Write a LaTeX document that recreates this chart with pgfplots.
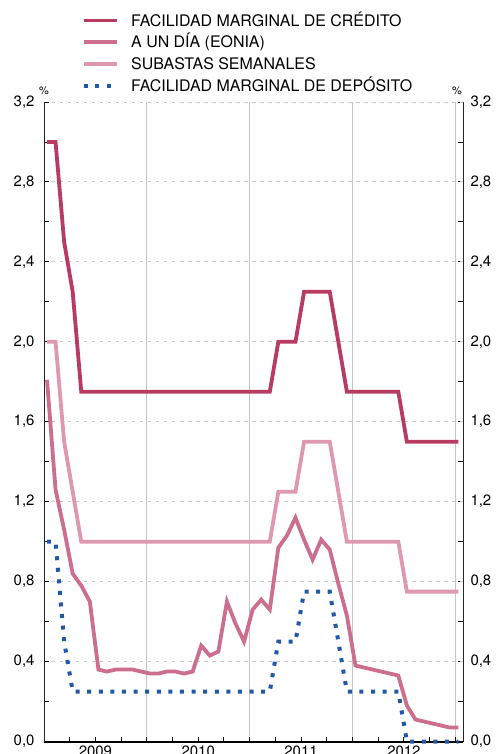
\documentclass[border=0pt]{standalone}
\usepackage{fontspec}
\setmainfont{TeX Gyre Heros}
\usepackage{pgfplots}
\pgfplotsset{compat=1.18}
\usepackage{pgfplotstable}
\definecolor{credito}{HTML}{B83B62}
\definecolor{eonia}{HTML}{CC6E8E}
\definecolor{subastas}{HTML}{DE98B0}
\definecolor{deposito}{HTML}{2358A8}
\definecolor{gridgray}{HTML}{C8C8C8}
\definecolor{yeargray}{HTML}{C4C4C4}

% m = month index (0 = January 2009)
\pgfplotstableread{
m  credito eonia subastas deposito
0  3.00 1.81 2.00 1.00
1  3.00 1.26 2.00 1.00
2  2.50 1.06 1.50 0.50
3  2.25 0.84 1.25 0.25
4  1.75 0.78 1.00 0.25
5  1.75 0.70 1.00 0.25
6  1.75 0.36 1.00 0.25
7  1.75 0.35 1.00 0.25
8  1.75 0.36 1.00 0.25
9  1.75 0.36 1.00 0.25
10 1.75 0.36 1.00 0.25
11 1.75 0.35 1.00 0.25
12 1.75 0.34 1.00 0.25
13 1.75 0.34 1.00 0.25
14 1.75 0.35 1.00 0.25
15 1.75 0.35 1.00 0.25
16 1.75 0.34 1.00 0.25
17 1.75 0.35 1.00 0.25
18 1.75 0.48 1.00 0.25
19 1.75 0.43 1.00 0.25
20 1.75 0.45 1.00 0.25
21 1.75 0.70 1.00 0.25
22 1.75 0.59 1.00 0.25
23 1.75 0.50 1.00 0.25
24 1.75 0.66 1.00 0.25
25 1.75 0.71 1.00 0.25
26 1.75 0.66 1.00 0.25
27 2.00 0.97 1.25 0.50
28 2.00 1.03 1.25 0.50
29 2.00 1.12 1.25 0.50
30 2.25 1.01 1.50 0.75
31 2.25 0.91 1.50 0.75
32 2.25 1.01 1.50 0.75
33 2.25 0.96 1.50 0.75
34 2.00 0.79 1.25 0.50
35 1.75 0.63 1.00 0.25
36 1.75 0.38 1.00 0.25
37 1.75 0.37 1.00 0.25
38 1.75 0.36 1.00 0.25
39 1.75 0.35 1.00 0.25
40 1.75 0.34 1.00 0.25
41 1.75 0.33 1.00 0.25
42 1.50 0.18 0.75 0.00
43 1.50 0.11 0.75 0.00
44 1.50 0.10 0.75 0.00
45 1.50 0.09 0.75 0.00
46 1.50 0.08 0.75 0.00
47 1.50 0.07 0.75 0.00
48 1.50 0.07 0.75 0.00
}\ratesdata

\pgfplotsset{
  common/.style={
    scale only axis, width=419bp, height=639.5bp,
    xmin=0, xmax=48.9, ymin=0, ymax=3.2,
    ytick={0,0.4,0.8,1.2,1.6,2.0,2.4,2.8,3.2},
    minor y tick num=1,
    tick align=inside,
    major tick length=5bp, minor tick length=5bp,
    /pgf/number format/assume math mode=true,
    /pgf/number format/fixed,
    /pgf/number format/fixed zerofill,
    /pgf/number format/precision=1,
    /pgf/number format/use comma,
    yticklabel style={font=\fontsize{15}{18}\selectfont},
    every tick/.style={black, line width=0.9bp},
  },
}

\begin{document}
\begin{tikzpicture}
% background axis: right scale and year separators
\begin{axis}[common,
  axis y line*=right, axis x line*=bottom,
  x axis line style={draw=none},
  y axis line style={line width=0.9bp, black!85, -},
  xtick={12,24,36,48}, xticklabels={},
  xtick style={draw=none},
  xmajorgrids,
  major grid style={yeargray, solid, line width=1.1bp},
  yticklabel style={xshift=4bp},
]
\addplot[draw=none] coordinates {(0,0)};
\end{axis}
% main axis
\begin{axis}[common,
  clip=false,
  axis y line*=left, axis x line*=bottom,
  x axis line style={line width=2bp, black, -},
  y axis line style={line width=0.9bp, black!85, -},
  xtick={3,6,...,48}, xticklabels={},
  extra x ticks={6,18,30,42},
  extra x tick labels={2009,2010,2011,2012},
  extra x tick style={major tick length=0pt,
    xticklabel style={font=\fontsize{15}{18}\selectfont, yshift=-0.5bp}},
  ymajorgrids,
  major grid style={gridgray, dash pattern=on 3.5bp off 4.5bp, line width=0.9bp},
  yticklabel style={xshift=-6bp},
  legend cell align=left,
  legend style={draw=none, fill=none, inner sep=0pt, outer sep=0pt,
    at={(rel axis cs:0,1)}, anchor=south west, xshift=37.7bp, yshift=10.7bp,
    font=\fontsize{16}{18}\selectfont,
    row sep=10.4bp, column sep=12.5bp,
    nodes={inner sep=0pt, text height=11.3bp, text depth=0bp}},
  legend image code/.code={\draw[#1] (0bp,0bp) -- (33bp,0bp);},
]
\addplot[credito, line width=3.8bp] table[x expr=\thisrow{m}+0.35, y=credito] {\ratesdata};
\addlegendentry{FACILIDAD MARGINAL DE CRÉDITO}
\addplot[eonia, line width=3.8bp] table[x expr=\thisrow{m}+0.35, y=eonia] {\ratesdata};
\addlegendentry{A UN DÍA (EONIA)}
\addplot[subastas, line width=3.8bp] table[x expr=\thisrow{m}+0.35, y=subastas] {\ratesdata};
\addlegendentry{SUBASTAS SEMANALES}
\addplot[deposito, line width=4bp, line cap=butt, dash pattern=on 4bp off 7.6bp] table[x expr=\thisrow{m}+0.35, y=deposito] {\ratesdata};
\addlegendentry{FACILIDAD MARGINAL DE DEPÓSITO}
\node[anchor=south, inner sep=0pt, font=\fontsize{11}{12}\selectfont, yshift=7bp] at (rel axis cs:0,1) {\%};
\node[anchor=south east, inner sep=0pt, font=\fontsize{11}{12}\selectfont, yshift=7bp, xshift=-1bp] at (rel axis cs:1,1) {\%};
\coordinate (sw) at (rel axis cs:0,0);
\coordinate (ne) at (rel axis cs:1,1);
\end{axis}
\pgfresetboundingbox
\path[use as bounding box] ([shift={(-44bp,-12.5bp)}]sw) rectangle ([shift={(35bp,102bp)}]ne);
\end{tikzpicture}
\end{document}
